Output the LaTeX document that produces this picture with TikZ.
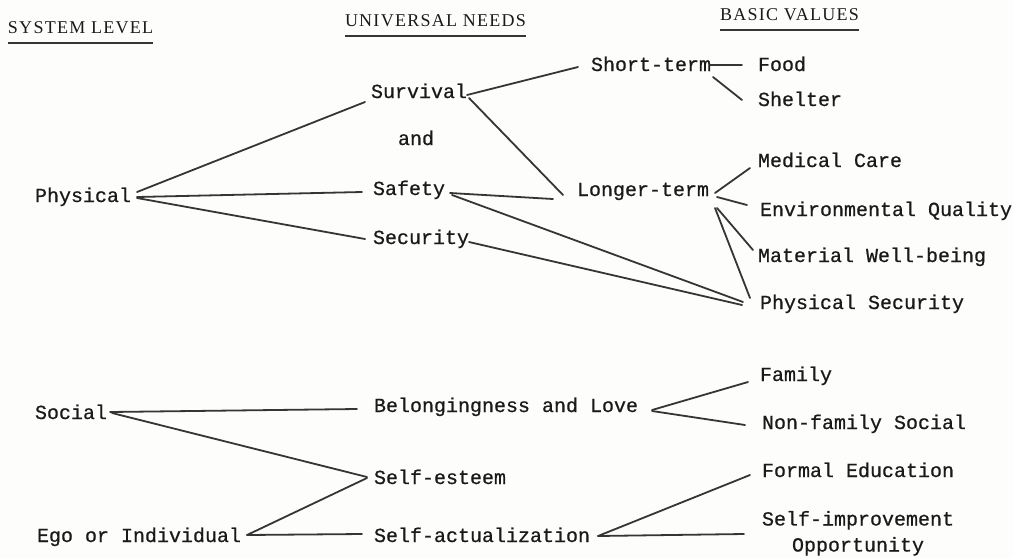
\documentclass[tikz,border=0pt]{standalone}
\usepackage{fontspec}
\setmonofont[FakeBold=0.6]{Liberation Mono}
\newfontfamily\headfont[LetterSpace=7]{Liberation Serif}
\usetikzlibrary{calc}
\definecolor{ink}{HTML}{1A1A1A}
\definecolor{wire}{HTML}{353535}
\definecolor{paper}{HTML}{FDFDFB}
\tikzset{
  lbl/.style={inner sep=0pt, outer sep=0pt, anchor=base west, text=ink,
    font=\ttfamily\fontsize{20}{26}\selectfont},
  head/.style={inner sep=0pt, outer sep=0pt, anchor=base west, text=ink,
    font=\headfont\fontsize{18}{20}\selectfont},
  link/.style={draw=wire, line width=1.8pt, line cap=round},
  uline/.style={draw=wire, line width=1.2pt}
}
\newcommand{\tie}[4]{\draw[link] ($(#1.base east)+(#2)$) -- ($(#3.base west)+(#4)$);}
\begin{document}
\begin{tikzpicture}[x=1pt,y=-1pt]
\fill[paper] (0,0) rectangle (1013,558);
\useasboundingbox (0,0) rectangle (1013,558);

% column headings
\node[head] (hsys) at (8,33) {SYSTEM LEVEL};
\node[head] (hneed) at (345,26) {UNIVERSAL NEEDS};
\node[head] (hval) at (720,20) {BASIC VALUES};
\foreach \h in {hsys,hneed,hval}
  \draw[uline] ($(\h.base west)+(0,10)$) -- ($(\h.base east)+(0,10)$);

% system level
\node[lbl] (phys) at (35,202) {Physical};
\node[lbl] (soc) at (35,419) {Social};
\node[lbl] (ego) at (37,542) {Ego or Individual};

% universal needs
\node[lbl] (surv) at (371,98) {Survival};
\node[lbl] (and) at (398,145) {and};
\node[lbl] (safe) at (373,195) {Safety};
\node[lbl] (secu) at (373,244) {Security};
\node[lbl] (belo) at (374,412) {Belongingness and Love};
\node[lbl] (este) at (374,484) {Self-esteem};
\node[lbl] (actu) at (374,542) {Self-actualization};

% intermediate terms
\node[lbl] (short) at (591,71) {Short-term};
\node[lbl] (longer) at (577,196) {Longer-term};

% basic values
\node[lbl] (food) at (758,71) {Food};
\node[lbl] (shel) at (758,106) {Shelter};
\node[lbl] (medi) at (758,167) {Medical Care};
\node[lbl] (envi) at (760,216) {Environmental Quality};
\node[lbl] (mate) at (758,262) {Material Well-being};
\node[lbl] (psec) at (760,309) {Physical Security};
\node[lbl] (fami) at (760,381) {Family};
\node[lbl] (nonf) at (762,429) {Non-family Social};
\node[lbl] (form) at (762,477) {Formal Education};
\node[lbl, align=center, anchor=north west] (impr) at (762,511)
  {Self-improvement\\Opportunity};

% connectors
\tie{phys}{6,-10}{surv}{-6,4}
\tie{phys}{6,-5}{safe}{-11,-3}
\tie{phys}{6,-4}{secu}{-8,-5}
\tie{surv}{0,-3}{short}{-13,-4}
\tie{surv}{2,0}{longer}{-14,-1}
\tie{short}{-1,-6}{food}{-16,-6}
\tie{short}{2,6}{shel}{-16,-6}
\tie{safe}{5,-2}{longer}{-24,3}
\tie{safe}{7,0}{psec}{-17,-7}
\tie{secu}{0,-2}{psec}{-18,-4}
\tie{longer}{6,-3}{medi}{-8,1}
\tie{longer}{8,1}{envi}{-13,-11}
\tie{longer}{8,12}{mate}{-5,-12}
\tie{longer}{6,12}{psec}{-10,-11}
\tie{soc}{3,-7}{belo}{-17,-3}
\tie{soc}{5,-6}{este}{-7,-7}
\tie{ego}{6,-7}{este}{-7,-6}
\tie{ego}{6,-7}{actu}{-12,-8}
\tie{belo}{14,-2}{fami}{-12,1}
\tie{belo}{14,-1}{nonf}{-17,-4}
\tie{actu}{8,-6}{form}{-12,-2}
\draw[link] ($(actu.base east)+(8,-6)$) -- ($(impr.north west)+(-18,23)$);
\end{tikzpicture}
\end{document}
